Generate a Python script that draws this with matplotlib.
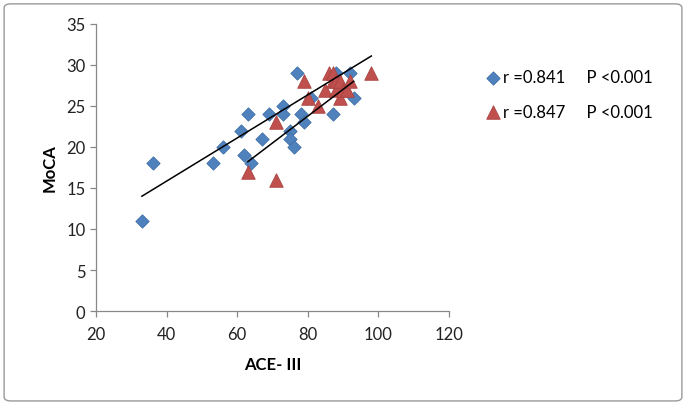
import matplotlib
matplotlib.use('Agg')
import numpy as np
import matplotlib.pyplot as plt
from matplotlib.patches import FancyBboxPatch

# ACE-III vs MoCA, two groups
ace_blue = [33, 36, 53, 56, 61, 62, 63, 64, 67, 69, 73, 73, 75, 75, 76, 77, 78, 79, 81, 87, 88, 92, 93]
moca_blue = [11, 18, 18, 20, 22, 19, 24, 18, 21, 24, 25, 24, 22, 21, 20, 29, 24, 23, 26, 24, 29, 29, 26]

ace_red = [63, 71, 71, 79, 80, 83, 85, 86, 87, 87, 88, 88, 89, 89, 90, 91, 92, 98]
moca_red = [17, 16, 23, 28, 26, 25, 27, 29, 28, 29, 28, 27, 26, 28, 27, 27, 28, 29]

# trend lines: (slope, intercept, x start, x end)
trend_blue = (0.263, 5.32, 33, 98)
trend_red = (0.327, -2.4, 63, 93)

legend_blue = 'r =0.841     P <0.001'
legend_red = 'r =0.847     P <0.001'

plt.rcParams['font.family'] = ['Lato', 'DejaVu Sans']

fig = plt.figure(figsize=(6.86, 4.06), dpi=100)
ax = fig.add_axes([0.14, 0.2315, 0.5145, 0.707])

ax.scatter(ace_blue, moca_blue, marker='D', s=46, color='#4F81BD',
           edgecolor='#3F6FA8', linewidth=0.6, zorder=3, label=legend_blue)
ax.scatter(ace_red, moca_red, marker='^', s=95, color='#C0504D',
           edgecolor='#A94341', linewidth=0.6, zorder=4, label=legend_red)

for m, b, x0, x1 in [trend_blue, trend_red]:
    xs = np.array([x0, x1])
    ax.plot(xs, m * xs + b, color='black', linewidth=1.1, zorder=5)

ax.set_xlim(20, 120)
ax.set_ylim(0, 35)
ax.set_xticks(range(20, 121, 20))
ax.set_yticks(range(0, 36, 5))
for s in ['top', 'right']:
    ax.spines[s].set_visible(False)
for s in ['left', 'bottom']:
    ax.spines[s].set_color('#888888')
    ax.spines[s].set_linewidth(0.9)
ax.tick_params(colors='#888888', labelcolor='#222222', labelsize=12, length=4, width=0.9)
ax.tick_params(axis='x', pad=7)

ax.set_xlabel('ACE- III', fontsize=12, fontweight='bold', labelpad=10)
ax.set_ylabel('MoCA', fontsize=12, fontweight='bold', labelpad=6)

ax.legend(loc='upper left', bbox_to_anchor=(1.10, 0.843), frameon=False,
          fontsize=12, handletextpad=0.1, labelspacing=1.12,
          handlelength=1.0, borderaxespad=0, borderpad=0)

border = FancyBboxPatch((0.006, 0.01), 0.988, 0.978, boxstyle='round,pad=0,rounding_size=0.01',
                        transform=fig.transFigure, fill=False, edgecolor='#999999',
                        linewidth=1.0)
fig.patches.append(border)

fig.savefig('out.png', dpi=100)
